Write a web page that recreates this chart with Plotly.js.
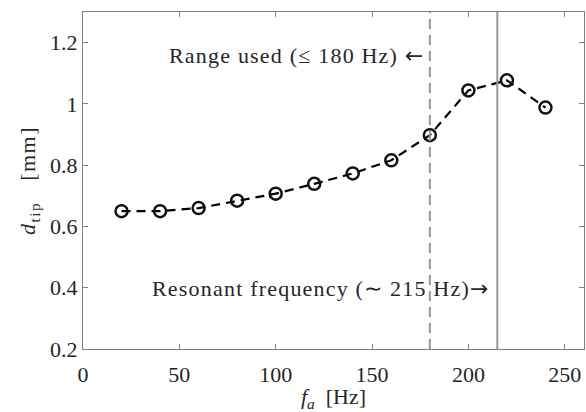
<!DOCTYPE html>
<html><head><meta charset="utf-8">
<script src="https://cdn.plot.ly/plotly-3.0.1.min.js"></script>
<style>html,body{margin:0;padding:0;background:#fff;}#plot{width:586px;height:412px;}
.annotation-text{letter-spacing:1.2px;}
.g-ytitle text{letter-spacing:1.5px;}</style>
</head><body><div id="plot"></div>
<script>
const freq = [20, 40, 60, 80, 100, 120, 140, 160, 180, 200, 220, 240];
const dtip = [0.650, 0.650, 0.660, 0.684, 0.707, 0.739, 0.773, 0.816, 0.898, 1.044, 1.077, 0.988];
const rangeLimit = 180;
const resonantFreq = 215;
const xTicks = [0, 50, 100, 150, 200, 250];
const yTicks = [0.2, 0.4, 0.6, 0.8, 1.0, 1.2];
const yTickText = ['0.2', '0.4', '0.6', '0.8', '1', '1.2'];

const FONT = '"Liberation Serif", "Times New Roman", serif';
const TXT = '#262626';
const ARROW = '<span style="font-family:DejaVu Sans">';
const data = [{
  x: freq, y: dtip, type: 'scatter', mode: 'lines+markers',
  line: {color: '#000', width: 2.2, dash: '9px,6px'},
  marker: {symbol: 'circle-open', size: 12, color: '#111', line: {width: 2.5, color: '#111'}},
  hoverinfo: 'x+y'
}];
const axisCommon = {
  showgrid: false, zeroline: false, showline: true, mirror: 'ticks',
  linecolor: '#808080', linewidth: 1, ticks: 'inside', ticklen: 5, tickcolor: '#808080',
  tickfont: {family: FONT, size: 22, color: TXT}
};
const layout = {
  width: 586, height: 412,
  margin: {l: 83, r: 2, t: 12, b: 63},
  paper_bgcolor: '#fff', plot_bgcolor: '#fff',
  showlegend: false,
  xaxis: Object.assign({}, axisCommon, {
    range: [0, 260], tickvals: xTicks, ticktext: xTicks.map(String), ticklabelstandoff: 6,
    title: {text: '<i>f<sub>a</sub></i>  [Hz]', font: {family: FONT, size: 22, color: TXT}, standoff: 0}
  }),
  yaxis: Object.assign({}, axisCommon, {
    range: [0.2, 1.3], tickvals: yTicks, ticktext: yTickText,
    title: {text: '<i>d</i><sub>tip</sub>   [mm]', font: {family: FONT, size: 22, color: TXT}, standoff: 8}
  }),
  shapes: [
    {type: 'line', xref: 'x', yref: 'paper', x0: rangeLimit, x1: rangeLimit, y0: 0, y1: 1,
     line: {color: '#999', width: 2, dash: '10px,6px'}},
    {type: 'line', xref: 'x', yref: 'paper', x0: resonantFreq, x1: resonantFreq, y0: 0, y1: 1,
     line: {color: '#999', width: 2}}
  ],
  annotations: [
    {x: rangeLimit, y: 1.157, xref: 'x', yref: 'y', xanchor: 'right', yanchor: 'middle', xshift: -4,
     text: 'Range used (≤ 180 Hz) ' + ARROW + '←</span>', showarrow: false, font: {family: FONT, size: 22, color: TXT}},
    {x: resonantFreq, y: 0.397, xref: 'x', yref: 'y', xanchor: 'right', yanchor: 'middle', xshift: -5,
     text: 'Resonant frequency (∼ 215 Hz)' + ARROW + '→</span>', showarrow: false, font: {family: FONT, size: 22, color: TXT}}
  ]
};
Plotly.newPlot('plot', data, layout, {displayModeBar: false, staticPlot: true});
</script></body></html>
